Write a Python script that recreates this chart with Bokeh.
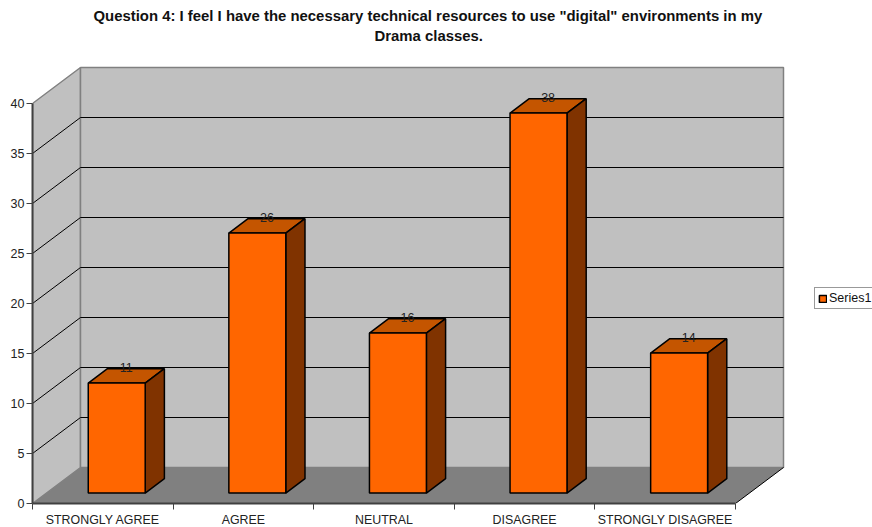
from bokeh.embed import file_html
from bokeh.resources import INLINE
from bokeh.plotting import figure
from bokeh.models import (ColumnDataSource, FixedTicker, Legend, LegendItem,
                          LinearAxis, Range1d, Title)
from bokeh.core.properties import value

categories = ["STRONGLY AGREE", "AGREE", "NEUTRAL", "DISAGREE", "STRONGLY DISAGREE"]
responses = [11, 26, 16, 38, 14]
value_ticks = [0, 5, 10, 15, 20, 25, 30, 35, 40]
title_lines = ['Question 4: I feel I have the necessary technical resources to use "digital" '
               'environments in my',
               'Drama classes.']

FONT = "Liberation Sans"
ORANGE, ORANGE_TOP, ORANGE_SIDE = "#FF6600", "#C45500", "#803300"
WALL, FLOOR, EDGE = "#C0C0C0", "#808080", "#808080"

# Oblique projection: a point at depth d (0 front, 1 back) shifts right and up.
PX_PER_CAT = 140.6
DEPTH_X = 48 / PX_PER_CAT
DEPTH_Y = 3.6
N = len(categories)
TOP = value_ticks[-1]
BAR_W = 0.405
D0, D1 = 0.29, 0.69


def proj(x, y, d):
    return x + d * DEPTH_X, y + d * DEPTH_Y


def face(points):
    xs, ys = zip(*(proj(*pt) for pt in points))
    return list(xs), list(ys)


FRAME_W, FRAME_H = 840, 458
p = figure(width=872, height=527, frame_width=FRAME_W, frame_height=FRAME_H,
           x_range=Range1d(0, FRAME_W / PX_PER_CAT), y_range=Range1d(0, FRAME_H / 10),
           x_axis_type=None, y_axis_type=None,
           output_backend="svg", toolbar_location=None,
           min_border_left=32, min_border_right=0, min_border_top=45, min_border_bottom=24,
           background_fill_color="white", border_fill_color="white", outline_line_color=None)
p.grid.visible = False

# Two-line heading; each line is left-anchored so both centre on the same axis
for line, off, gap in zip(reversed(title_lines), (342, 61), (3, 1)):
    p.add_layout(Title(text=line, align="left", offset=off, standoff=gap, text_font=FONT,
                       text_font_size="14.9px", text_font_style="bold", text_color="#111111",
                       text_line_height=1.0), "above")

# Walls and floor
walls = [
    face([(0, 0, 0), (0, 0, 1), (0, TOP, 1), (0, TOP, 0)]),
    face([(0, 0, 1), (N, 0, 1), (N, TOP, 1), (0, TOP, 1)]),
]
p.patches([w[0] for w in walls], [w[1] for w in walls], fill_color=WALL,
          line_color=EDGE, line_width=1.5)
fx, fy = face([(0, 0, 0), (N, 0, 0), (N, 0, 1), (0, 0, 1)])
p.patch(fx, fy, fill_color=FLOOR, line_color=None)

# Gridlines run up the left wall and across the back wall
for v in value_ticks[1:-1]:
    gx, gy = face([(0, v, 0), (0, v, 1), (N, v, 1)])
    p.line(gx, gy, line_color="black", line_width=1)
ex, ey = face([(N, 0, 0), (N, 0, 1)])
p.line(ex, ey, line_color="black", line_width=1)

# Bars
fronts, tops, sides = [[], []], [[], []], [[], []]
for i, v in enumerate(responses):
    a, b = i + 0.5 - BAR_W / 2, i + 0.5 + BAR_W / 2
    for store, pts in (
        (tops, [(a, v, D0), (b, v, D0), (b, v, D1), (a, v, D1)]),
        (sides, [(b, 0, D0), (b, 0, D1), (b, v, D1), (b, v, D0)]),
        (fronts, [(a, 0, D0), (b, 0, D0), (b, v, D0), (a, v, D0)]),
    ):
        xs, ys = face(pts)
        store[0].append(xs)
        store[1].append(ys)

p.patches(tops[0], tops[1], fill_color=ORANGE_TOP, line_color="black", line_width=1.5)
p.patches(sides[0], sides[1], fill_color=ORANGE_SIDE, line_color="black", line_width=1.5)
front_r = p.patches(fronts[0], fronts[1], fill_color=ORANGE, line_color="black", line_width=1.5)

# Value labels sit on the rear edge of each bar's top
lx, ly = zip(*(proj(i + 0.5, v, D1) for i, v in enumerate(responses)))
labels = ColumnDataSource(dict(x=[x - (D1 - (D0 + D1) / 2) * DEPTH_X for x in lx], y=ly,
                               t=[str(v) for v in responses]))
p.text("x", "y", text="t", source=labels, text_font=value(FONT), text_font_size="12.5px",
       text_color="#222222", text_align="center", text_baseline="middle", y_offset=-1)

# Axes
y_axis = LinearAxis(ticker=FixedTicker(ticks=value_ticks), bounds=(0, TOP),
                    major_tick_in=0, major_tick_out=6, minor_tick_out=0,
                    major_tick_line_color="#404040", axis_line_color="#404040", axis_line_width=2,
                    major_label_text_font=FONT, major_label_text_font_size="12.5px",
                    major_label_text_color="#222222", major_label_standoff=2)
p.add_layout(y_axis, "left")

centres = [i + 0.5 for i in range(N)]
x_axis = LinearAxis(ticker=FixedTicker(ticks=centres, minor_ticks=list(range(N + 1))),
                    major_label_overrides={c: lab for c, lab in zip(centres, categories)},
                    bounds=(0, N), major_tick_in=0, major_tick_out=0,
                    minor_tick_in=0, minor_tick_out=6, minor_tick_line_color="#404040",
                    axis_line_color="#404040", axis_line_width=2,
                    major_label_text_font=FONT, major_label_text_font_size="12.4px",
                    major_label_text_color="#222222", major_label_standoff=3)
p.add_layout(x_axis, "below")

# Legend box at the right edge
legend = Legend(items=[LegendItem(label="Series1", renderers=[front_r], index=0)],
                location=(782, 194), orientation="vertical",
                border_line_color="#333333", border_line_width=1,
                background_fill_color="white", background_fill_alpha=1,
                label_text_font=FONT, label_text_font_size="12.5px", label_text_color="#111111",
                glyph_width=9, glyph_height=9, label_standoff=2, padding=3, margin=0,
                label_height=12, spacing=0)
p.add_layout(legend, "center")

open("out.html", "w").write(file_html(p, INLINE))
